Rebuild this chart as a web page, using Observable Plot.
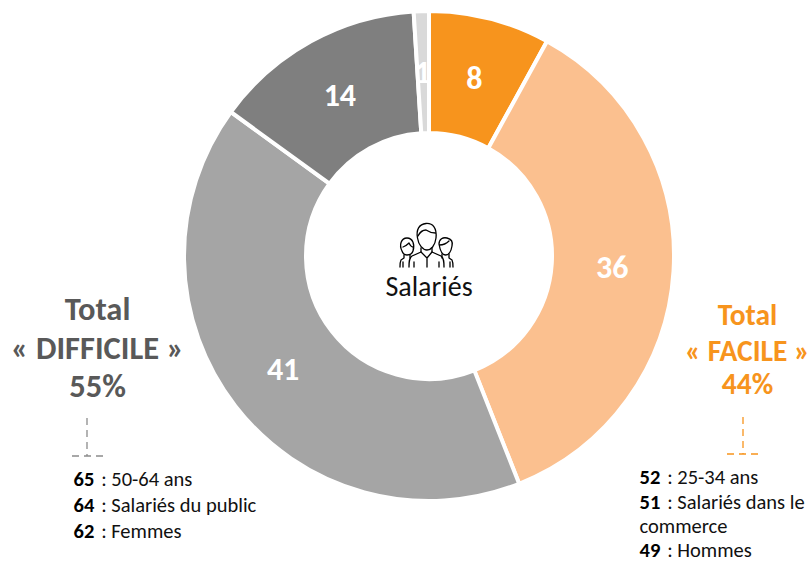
<!DOCTYPE html>
<html lang="fr">
<head>
<meta charset="utf-8">
<style>html,body{margin:0;padding:0;background:#fff}svg{display:block}</style>
<script src="https://cdn.jsdelivr.net/npm/d3@7"></script>
<script src="https://cdn.jsdelivr.net/npm/@observablehq/plot@0.6"></script>
</head>
<body>
<div id="chart"></div>
<script>
const categories = ["Très facile", "Plutôt facile", "Plutôt difficile", "Très difficile", "Ne sait pas"];
const values = [8, 36, 41, 14, 1];
const colors = ["#F7941D", "#FBC08F", "#A5A5A5", "#7F7F7F", "#D9D9D9"];
const centerLabel = "Salariés";
const difficileTitle = ["Total", "« DIFFICILE »", "55%"];
const facileTitle = ["Total", "« FACILE »", "44%"];
const difficileNums = ["65", "64", "62"];
const difficileText = [" : 50-64 ans", " : Salariés du public", " : Femmes"];
const facileNums = ["52", "51", "49"];
const facileText = [" : 25-34 ans", " : Salariés dans le", " : Hommes"];
const facileWrap = "commerce";

const font = "Carlito, Lato, sans-serif";
const cx = 429, cy = 256, outer = 245, inner = 123, labelR = 184;
const slices = categories.map((category, i) => ({category, value: values[i]}));

const arc = d3.arc();
function donut(index, scales, v) {
  const g = d3.create("svg:g").attr("transform", `translate(${cx},${cy})`);
  g.selectAll("path").data(index).join("path")
    .attr("d", i => arc({innerRadius: inner, outerRadius: outer, startAngle: v.x1[i], endAngle: v.x2[i]}))
    .attr("fill", i => v.fill[i])
    .attr("stroke", "#fff")
    .attr("stroke-width", 4);
  return g.node();
}
function polarLabels(index, scales, v, dims, ctx, next) {
  const g = next(index, scales, v, dims, ctx);
  d3.select(g).selectAll("text").attr("transform", i => {
    const a = v.x[i];
    return `translate(${cx - 1 + labelR * Math.sin(a)},${cy - labelR * Math.cos(a)})`;
  });
  return g;
}
const at = (text, x, y, o) => Plot.text([text], {
  text: d => d, frameAnchor: "top-left", dx: x, dy: y, lineAnchor: "middle", fontFamily: font, ...o
});
const heading = (lines, x, ys, size, fill) => lines.map((t, i) =>
  at(t, x, ys[i], {textAnchor: "middle", fontSize: size, fontWeight: 700, fill}));
const list = (nums, texts, x, ys, gap) => nums.flatMap((n, i) => [
  at(n, x, ys[i], {textAnchor: "start", fontSize: 20.5, fontWeight: 700, fill: "#000"}),
  at(texts[i], x + gap, ys[i], {textAnchor: "start", fontSize: 20.5, fill: "#111", style: {whiteSpace: "pre"}})
]);
function dashes(color, x, y1, y2, h1, h2) {
  return () => {
    const s = d3.create("svg:path")
      .attr("d", `M${x},${y1}V${y2}M${h1},${y2}H${h2}`)
      .attr("fill", "none").attr("stroke", color).attr("stroke-width", 1.3)
      .attr("stroke-dasharray", "7 5");
    return s.node();
  };
}
function icon() {
  const g = d3.create("svg:g").attr("fill", "none").attr("stroke", "#000")
    .attr("stroke-width", 1.3).attr("stroke-linecap", "round").attr("stroke-linejoin", "round");
  [
    // centre person
    "M417.5,238 C416,230 419,224 426,223.5 C433,223 437,228 436,238 C435,246 431,250 427,250 C423,250 418.5,245 417.5,238 Z",
    "M418,236 C420,232 423,230 426,230 C429,232 432,233 435.5,233",
    "M421,248 V252 L412,256 C409,258 409,262 409,267 M432,248 V252 L441,256 C444,258 444,262 444,267",
    "M421,252 L427,258 L432,252 M427,258 V267 M414,262 V267 M439,262 V267",
    // left person
    "M402,251 C399,245 401,238 407,238 C413,238 415,245 413,251 C412,254 409,255 407,255 C405,255 403,254 402,251 Z",
    "M403,247 C406,246 408,244 409,243 C410,245 411,247 413,247",
    "M404,255 V258 L401,260 C400,262 400,264 400,267 M410,255 V258 M403,262 V267",
    // right person
    "M439,244 C439,239 443,237 447,238 C451,239 453,242 452,246 C451,252 449,255 445.5,255 C442,255 440,250 439,244 Z",
    "M439.5,245 C443,245 447,243 449,241",
    "M442,254 V258 M449,254 V258 L452,260 C453,262 453,264 453,267 M450,262 V267"
  ].forEach(d => g.append("path").attr("d", d));
  return g.node();
}

const plot = Plot.plot({
  width: 812, height: 562, margin: 0,
  style: {background: "#fff", overflow: "visible"},
  x: {axis: null, domain: [0, 100], range: [0, 2 * Math.PI]},
  color: {domain: categories, range: colors},
  marks: [
    Plot.barX(slices, {x: "value", fill: "category", render: donut}),
    Plot.text(slices, Plot.stackX({
      x: "value", text: "value", fill: "#fff", fontSize: 32, fontWeight: 700,
      fontFamily: font, lineAnchor: "middle", render: polarLabels
    })),
    icon,
    at(centerLabel, 428.5, 287, {textAnchor: "middle", fontSize: 28, fill: "#111"}),
    ...heading(difficileTitle, 97, [309, 348, 386], 32.5, "#595959"),
    ...heading(facileTitle, 747, [315, 351, 384], 29.5, "#F7941D"),
    dashes("#8c8c8c", 87, 418, 456, 72, 105),
    dashes("#F7941D", 743, 417, 454, 727, 760),
    ...list(difficileNums, difficileText, 73, [479, 505, 531], 23),
    ...list(facileNums, facileText, 639, [477, 501.5, 549.5], 23),
    at(facileWrap, 639, 525.5, {textAnchor: "start", fontSize: 20.5, fill: "#111"})
  ]
});
document.getElementById("chart").append(plot);
</script>
</body>
</html>
